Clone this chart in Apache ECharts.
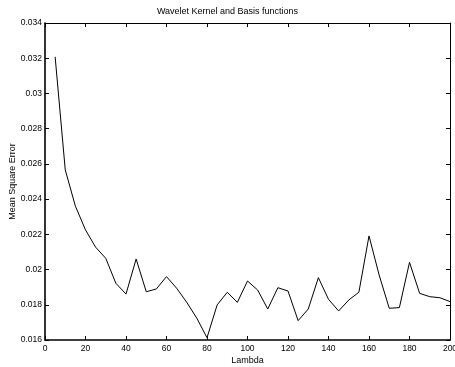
<!DOCTYPE html>
<html>
<head>
<meta charset="utf-8">
<script src="https://cdn.jsdelivr.net/npm/echarts@6/dist/echarts.min.js"></script>
<style>
  html, body { margin: 0; padding: 0; background: #fff; }
  #chart { width: 455px; height: 367px; }
</style>
</head>
<body>
<div id="chart"></div>
<script>
// Regularisation parameter values
const lambdas = [5, 10, 15, 20, 25, 30, 35, 40, 45, 50,
                 55, 60, 65, 70, 75, 80, 85, 90, 95, 100,
                 105, 110, 115, 120, 125, 130, 135, 140, 145, 150,
                 155, 160, 165, 170, 175, 180, 185, 190, 195, 200];

// Mean square error at each lambda
const mse = [0.03208, 0.02566, 0.02360, 0.02225, 0.02127, 0.02064, 0.01922, 0.01861, 0.02060, 0.01874,
             0.01890, 0.01960, 0.01894, 0.01814, 0.01723, 0.01613, 0.01799, 0.01871, 0.01814, 0.01935,
             0.01884, 0.01776, 0.01897, 0.01878, 0.01710, 0.01776, 0.01954, 0.01831, 0.01765, 0.01827,
             0.01871, 0.02191, 0.01969, 0.01780, 0.01784, 0.02041, 0.01865, 0.01846, 0.01840, 0.01818];

const FONT = '"Liberation Sans", Arial, Helvetica, sans-serif';

const chart = echarts.init(document.getElementById('chart'), null, { renderer: 'canvas' });

// Boxed axes with inward ticks on every side
function boxAxis(lineWidth) {
  return {
    axisLine: { show: true, onZero: false, lineStyle: { color: '#000', width: lineWidth } },
    axisTick: { show: true, inside: true, length: 4, lineStyle: { color: '#000', width: 1 } },
    splitLine: { show: false }
  };
}

chart.setOption({
  animation: false,
  backgroundColor: '#fff',
  title: {
    text: 'Wavelet Kernel and Basis functions',
    left: 'center',
    top: 7,
    padding: 0,
    textStyle: { fontFamily: FONT, fontSize: 9, fontWeight: 'normal', color: '#000' }
  },
  grid: { left: 45, right: 5, top: 23, bottom: 27, containLabel: false, outerBoundsMode: 'none' },
  xAxis: [
    Object.assign({
      type: 'value', min: 0, max: 200, interval: 20, position: 'bottom',
      name: 'Lambda', nameLocation: 'middle', nameGap: 16, nameMoveOverlap: false,
      nameTextStyle: { fontFamily: FONT, fontSize: 9, color: '#000' },
      axisLabel: { fontFamily: FONT, fontSize: 8.5, color: '#000', margin: 4, hideOverlap: false }
    }, boxAxis(1.6)),
    Object.assign({
      type: 'value', min: 0, max: 200, interval: 20, position: 'top',
      axisLabel: { show: false }
    }, boxAxis(1.2))
  ],
  yAxis: [
    Object.assign({
      type: 'value', min: 0.016, max: 0.034, interval: 0.002, position: 'left',
      name: 'Mean Square Error', nameLocation: 'middle', nameGap: 28, nameMoveOverlap: false,
      nameTextStyle: { fontFamily: FONT, fontSize: 9, color: '#000' },
      axisLabel: {
        fontFamily: FONT, fontSize: 8.5, color: '#000', margin: 3,
        formatter: v => String(parseFloat(v.toFixed(3)))
      }
    }, boxAxis(1.6)),
    Object.assign({
      type: 'value', min: 0.016, max: 0.034, interval: 0.002, position: 'right',
      axisLabel: { show: false }
    }, boxAxis(1))
  ],
  series: [{
    type: 'line',
    xAxisIndex: 0,
    yAxisIndex: 0,
    data: lambdas.map((l, i) => [l, mse[i]]),
    showSymbol: false,
    symbol: 'none',
    lineStyle: { color: '#000', width: 1 },
    z: 3
  }]
});
</script>
</body>
</html>
